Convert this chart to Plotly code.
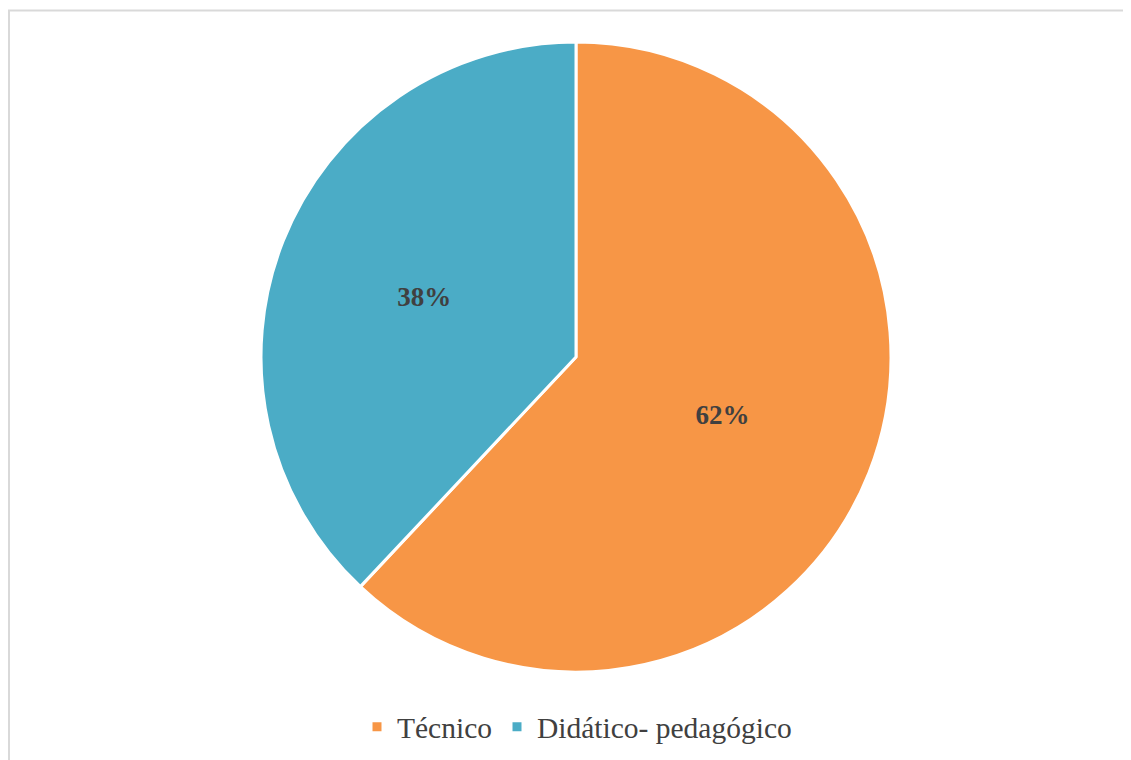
import plotly.graph_objects as go

categories = ["Técnico", "Didático- pedagógico"]
values = [62, 38]
colors = ["#F79646", "#4BACC6"]

W, H = 1131, 760
OFF = 8  # page body margin offset
cx, cy, r = 576 - OFF, 357 - OFF, 315

fig = go.Figure(go.Pie(
    labels=categories,
    values=values,
    sort=False,
    direction="clockwise",
    rotation=0,
    marker=dict(colors=colors, line=dict(color="white", width=3)),
    textinfo="percent",
    texttemplate="<b>%{percent:.0%}</b>",
    textposition="inside",
    insidetextorientation="horizontal",
    textfont=dict(family="Liberation Serif", size=27, color="#404040"),
    domain=dict(x=[(cx - r) / W, (cx + r) / W], y=[1 - (cy + r) / H, 1 - (cy - r) / H]),
    hoverinfo="label+percent",
))

fig.update_layout(
    width=W, height=H,
    margin=dict(l=0, r=0, t=0, b=0),
    paper_bgcolor="white",
    plot_bgcolor="white",
    showlegend=True,
    legend=dict(
        orientation="h",
        x=(577 - OFF) / W, xanchor="center",
        y=1 - (727 - OFF) / H, yanchor="middle",
        font=dict(family="Liberation Serif", size=29.5, color="#404040"),
        itemclick=False,
    ),
    shapes=[dict(
        type="rect", xref="paper", yref="paper",
        x0=(9 - OFF) / W, x1=1.02, y0=-0.03, y1=1 - (10.5 - OFF) / H,
        line=dict(color="#D9D9D9", width=2),
        fillcolor="rgba(0,0,0,0)",
        layer="below",
    )],
)

fig.write_html("out.html")
